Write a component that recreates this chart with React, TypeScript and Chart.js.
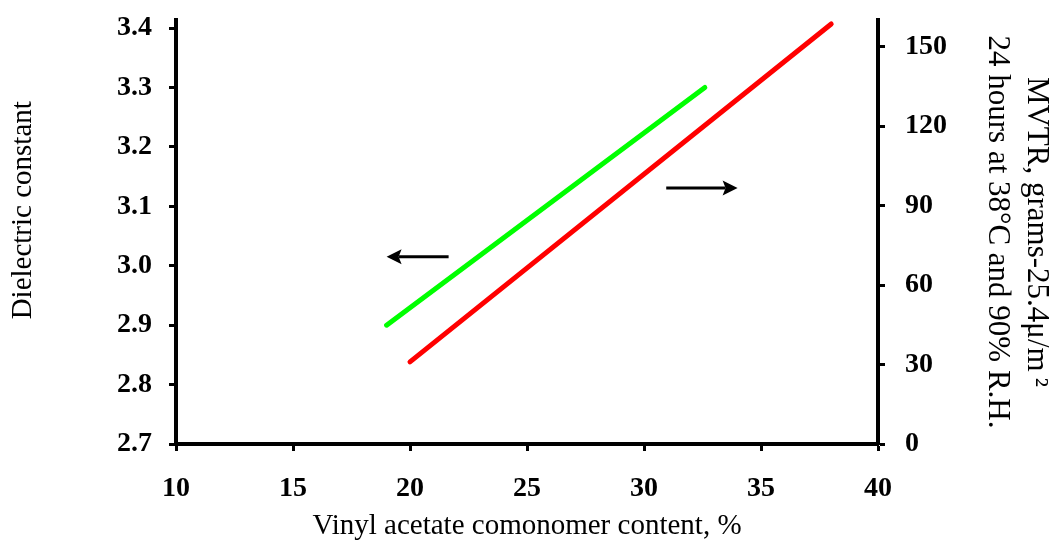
import React, { useEffect, useRef } from "react";
import { Chart, registerables } from "chart.js";
Chart.register(...registerables);

const xTicks = [10, 15, 20, 25, 30, 35, 40];
const leftTicks = [2.7, 2.8, 2.9, 3.0, 3.1, 3.2, 3.3, 3.4];
const rightTicks = [0, 30, 60, 90, 120, 150];
const dielectricX = [19, 32.6];
const dielectricY = [2.9, 3.3];
const mvtrX = [20, 38];
const mvtrY = [31, 158.5];
const arrowTailX = [21.65, 30.95];
const arrowHeadX = [19.0, 34.0];
const arrowY = [3.015, 3.131];

const SERIF = "'Liberation Serif', 'Times New Roman', serif";

const arrowPlugin = {
  id: "arrows",
  afterDatasetsDraw(chart: any) {
    const { ctx, scales } = chart;
    const xs = scales.x;
    const ys = scales.y;
    ctx.save();
    ctx.strokeStyle = "#000";
    ctx.fillStyle = "#000";
    ctx.lineWidth = 3;
    for (let i = 0; i < arrowY.length; i++) {
      const x0 = xs.getPixelForValue(arrowTailX[i]);
      const x1 = xs.getPixelForValue(arrowHeadX[i]);
      const y = ys.getPixelForValue(arrowY[i]);
      const dir = Math.sign(x1 - x0);
      const headLen = 15;
      const half = 7.5;
      ctx.beginPath();
      ctx.moveTo(x0, y);
      ctx.lineTo(x1 - dir * (headLen - 3), y);
      ctx.stroke();
      ctx.beginPath();
      ctx.moveTo(x1, y);
      ctx.lineTo(x1 - dir * headLen, y - half);
      ctx.lineTo(x1 - dir * (headLen - 3), y);
      ctx.lineTo(x1 - dir * headLen, y + half);
      ctx.closePath();
      ctx.fill();
    }
    ctx.restore();
  },
};

export default function App() {
  const ref = useRef<HTMLCanvasElement>(null);
  useEffect(() => {
    if (!ref.current) return;
    const tickFont = { family: SERIF, size: 28, weight: "bold" as const };
    const titleFont = { family: SERIF, size: 29 };
    const chart = new Chart(ref.current, {
      type: "line",
      data: {
        datasets: [
          {
            label: "Dielectric constant",
            data: dielectricX.map((x, i) => ({ x, y: dielectricY[i] })),
            yAxisID: "y",
            borderColor: "#00ff00",
            borderWidth: 5,
            borderCapStyle: "round",
            pointRadius: 0,
            fill: false,
          },
          {
            label: "MVTR",
            data: mvtrX.map((x, i) => ({ x, y: mvtrY[i] })),
            yAxisID: "y1",
            borderColor: "#ff0000",
            borderWidth: 5,
            borderCapStyle: "round",
            pointRadius: 0,
            fill: false,
          },
        ],
      },
      options: {
        animation: false,
        responsive: false,
        devicePixelRatio: 1,
        layout: { padding: { top: 20, left: 0, right: 0, bottom: 0 } },
        plugins: { legend: { display: false }, tooltip: { enabled: false } },
        scales: {
          x: {
            type: "linear",
            min: 10,
            max: 40,
            afterBuildTicks: (s: any) => {
              s.ticks = xTicks.map((v) => ({ value: v }));
            },
            afterFit: (s: any) => {
              s.height = 100;
              s.paddingLeft = 0;
              s.paddingRight = 0;
            },
            grid: { drawOnChartArea: false, drawTicks: true, tickLength: 7, tickWidth: 3, color: "#000" },
            border: { display: true, width: 4, color: "#000" },
            ticks: { font: tickFont, color: "#000", padding: 21, maxRotation: 0, callback: (v: any) => String(v) },
            title: { display: true, text: "Vinyl acetate comonomer content, %", font: titleFont, color: "#000", padding: { top: 0, bottom: 0 } },
          },
          y: {
            type: "linear",
            position: "left",
            min: 2.7,
            max: 3.4135,
            afterBuildTicks: (s: any) => {
              s.ticks = leftTicks.map((v) => ({ value: v }));
            },
            afterFit: (s: any) => {
              s.width = 176;
              s.paddingTop = 0;
              s.paddingBottom = 0;
            },
            grid: { drawOnChartArea: false, drawTicks: true, tickLength: 7, tickWidth: 3, color: "#000" },
            border: { display: true, width: 4, color: "#000" },
            ticks: { font: tickFont, color: "#000", padding: 17, callback: (v: any) => Number(v).toFixed(1) },
            title: { display: true, text: "\u2002\u2002\u2002Dielectric constant", font: titleFont, color: "#000", padding: { top: 6, bottom: 0 } },
          },
          y1: {
            type: "linear",
            position: "right",
            min: 0,
            max: 160,
            afterBuildTicks: (s: any) => {
              s.ticks = rightTicks.map((v) => ({ value: v }));
            },
            afterFit: (s: any) => {
              s.width = 178;
              s.paddingTop = 0;
              s.paddingBottom = 0;
            },
            grid: { drawOnChartArea: false, drawTicks: true, tickLength: 7, tickWidth: 3, color: "#000" },
            border: { display: true, width: 4, color: "#000" },
            ticks: { font: tickFont, color: "#000", padding: 20, callback: (v: any) => String(v) },
            title: {
              display: true,
              text: ["MVTR, grams-25.4\u03bc/m\u2009\u00b2", "24 hours at 38\u00b0C and 90% R.H."],
              font: { family: SERIF, size: 31, lineHeight: 1.26 },
              color: "#000",
              padding: { top: 0, bottom: 0 },
            },
          },
        },
      },
      plugins: [arrowPlugin],
    });
    return () => chart.destroy();
  }, []);
  return (
    <div style={{ position: "absolute", left: 0, top: 0, width: 1056, height: 544, background: "#fff" }}>
      <canvas ref={ref} width={1056} height={544} style={{ width: 1056, height: 544 }} />
    </div>
  );
}
